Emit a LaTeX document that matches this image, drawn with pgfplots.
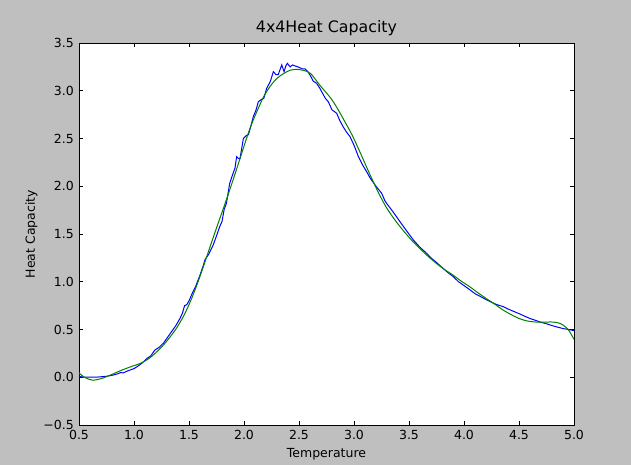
\documentclass[border=0pt]{standalone}
\usepackage{fontspec}
\setmainfont{DejaVu Sans}
\usepackage{pgfplots}
\pgfplotsset{compat=1.18}

\definecolor{bggray}{RGB}{191,191,191}
\definecolor{mplblue}{RGB}{0,0,255}
\definecolor{mplgreen}{RGB}{0,128,0}

\begin{document}
\begin{tikzpicture}
\useasboundingbox (-79pt,-40pt) rectangle (552pt,425pt);
\fill[bggray] (-79pt,-40pt) rectangle (552pt,425pt);
\begin{axis}[
at={(0pt,0pt)}, anchor=south west,
scale only axis,
width=495pt, height=382pt,
xmin=0.5, xmax=5.0,
ymin=-0.5, ymax=3.5,
axis background/.style={fill=white},
axis line style={line width=0.9pt, black},
xtick={0.5,1.0,...,5.0},
xticklabels={0.5,1.0,1.5,2.0,2.5,3.0,3.5,4.0,4.5,5.0},
ytick={-0.5,0,0.5,1,1.5,2,2.5,3,3.5},
yticklabels={−0.5,0.0,0.5,1.0,1.5,2.0,2.5,3.0,3.5},
tick align=inside,
major tick length=4pt,
tick style={black, line width=0.6pt},
minor tick num=0,
xticklabel style={font=\fontsize{12.5}{14}\selectfont, anchor=base, inner sep=0pt, yshift=-15pt},
yticklabel style={font=\fontsize{12.5}{14}\selectfont, anchor=east, inner sep=0pt, xshift=-5pt},
/pgf/number format/assume math mode=true,
title={4x4Heat Capacity},
title style={font=\fontsize{15.8}{18}\selectfont, at={(axis description cs:0.5,1)}, anchor=base, inner sep=0pt, yshift=4.7pt},
xlabel={Temperature},
xlabel style={font=\fontsize{12.5}{14}\selectfont, at={(axis description cs:0.5,0)}, anchor=base, inner sep=0pt, yshift=-32.3pt},
ylabel={Heat Capacity},
% the label is turned by 90 degrees, so its yshift moves it to the left
ylabel style={font=\fontsize{12.5}{14}\selectfont, at={(axis description cs:0,0.5)}, anchor=base, inner sep=0pt, yshift=44pt},
]
\addplot [line width=1pt, mplblue]
table {%
0.50 0.01
0.52 0.005
0.55 0.0
0.60 0.0
0.65 0.0
0.70 0.005
0.75 0.01
0.80 0.02
0.85 0.035
0.88 0.05
0.90 0.045
0.95 0.07
1.00 0.09
1.04 0.12
1.08 0.155
1.12 0.20
1.15 0.22
1.19 0.285
1.23 0.315
1.27 0.36
1.30 0.41
1.34 0.475
1.38 0.54
1.42 0.62
1.44 0.67
1.46 0.75
1.48 0.76
1.50 0.80
1.53 0.88
1.56 0.95
1.60 1.07
1.63 1.17
1.645 1.23
1.68 1.29
1.72 1.385
1.75 1.48
1.78 1.58
1.80 1.63
1.82 1.76
1.84 1.82
1.87 2.03
1.89 2.10
1.918 2.19
1.933 2.31
1.95 2.29
1.964 2.29
1.994 2.50
2.02 2.53
2.04 2.54
2.06 2.62
2.085 2.73
2.11 2.80
2.13 2.885
2.16 2.91
2.18 2.92
2.206 3.025
2.24 3.10
2.267 3.20
2.29 3.17
2.312 3.17
2.343 3.27
2.364 3.20
2.38 3.26
2.394 3.287
2.42 3.25
2.44 3.27
2.464 3.26
2.49 3.25
2.509 3.24
2.53 3.23
2.555 3.228
2.58 3.20
2.60 3.165
2.63 3.10
2.66 3.078
2.69 3.025
2.706 2.99
2.74 2.92
2.766 2.885
2.80 2.80
2.843 2.764
2.87 2.69
2.903 2.62
2.93 2.57
2.964 2.519
3.00 2.43
3.04 2.31
3.08 2.22
3.115 2.152
3.15 2.08
3.20 2.00
3.252 1.926
3.28 1.85
3.297 1.82
3.35 1.74
3.418 1.629
3.48 1.53
3.54 1.437
3.60 1.36
3.66 1.298
3.70 1.25
3.752 1.20
3.80 1.15
3.85 1.10
3.903 1.053
3.95 1.00
4.00 0.96
4.055 0.914
4.10 0.875
4.15 0.845
4.206 0.81
4.25 0.785
4.30 0.76
4.357 0.739
4.40 0.715
4.45 0.69
4.509 0.662
4.55 0.64
4.60 0.615
4.66 0.592
4.70 0.575
4.75 0.56
4.812 0.537
4.85 0.525
4.90 0.51
4.95 0.50
5.00 0.488
};
\addplot [line width=1pt, mplgreen, smooth]
table {%
0.50 0.045
0.55 0.0
0.62 -0.03
0.70 -0.015
0.80 0.03
0.88 0.07
0.97 0.11
1.06 0.146
1.14 0.20
1.21 0.27
1.27 0.34
1.33 0.425
1.39 0.52
1.455 0.65
1.515 0.80
1.576 0.98
1.637 1.18
1.697 1.385
1.758 1.59
1.818 1.786
1.88 1.995
1.94 2.205
2.00 2.42
2.06 2.624
2.12 2.79
2.18 2.94
2.24 3.05
2.30 3.13
2.36 3.18
2.42 3.215
2.485 3.224
2.55 3.21
2.606 3.18
2.688 3.06
2.74 2.99
2.79 2.92
2.84 2.833
2.915 2.68
2.99 2.52
3.065 2.33
3.14 2.135
3.215 1.95
3.29 1.786
3.37 1.65
3.445 1.54
3.52 1.44
3.597 1.35
3.67 1.27
3.748 1.193
3.82 1.13
3.90 1.07
3.97 1.01
4.05 0.95
4.12 0.89
4.20 0.826
4.28 0.765
4.355 0.704
4.43 0.655
4.506 0.613
4.58 0.588
4.658 0.578
4.73 0.578
4.81 0.578
4.86 0.568
4.90 0.547
4.95 0.495
5.00 0.397
};
\end{axis}
\end{tikzpicture}
\end{document}
